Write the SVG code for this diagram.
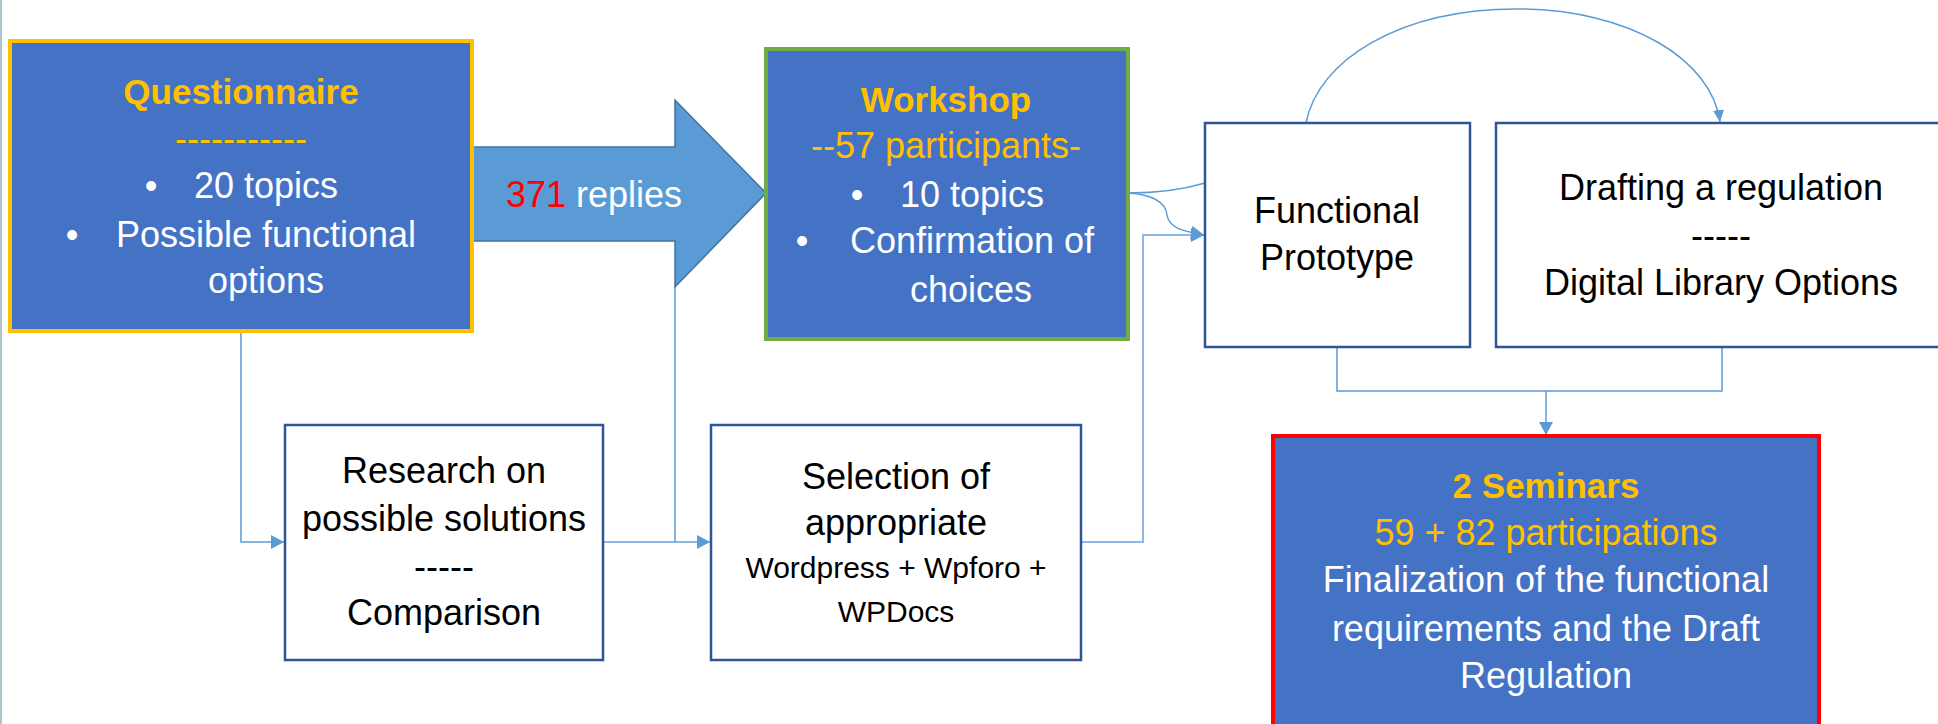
<svg xmlns="http://www.w3.org/2000/svg" width="1938" height="724" viewBox="0 0 1938 724">
  <defs>
    <marker id="ah" markerUnits="userSpaceOnUse" markerWidth="14" markerHeight="14" refX="13" refY="7" orient="auto">
      <path d="M0,0 L13,7 L0,14 z" fill="#5B9BD5"/>
    </marker>
    <marker id="ahs" markerUnits="userSpaceOnUse" markerWidth="13" markerHeight="11" refX="12" refY="5.5" orient="auto">
      <path d="M0,0 L12,5.5 L0,11 z" fill="#5B9BD5"/>
    </marker>
  </defs>
  <style>
    text { font-family: "Liberation Sans", Arial, sans-serif; font-size: 36px; text-anchor: middle; }
    .w { fill: #FFFFFF; }
    .k { fill: #000000; }
    .o { fill: #FFC000; }
    .b { font-weight: bold; font-size: 35px; }
    .sm { font-size: 30px; }
    .blue { fill: #4472C4; }
    .plain { fill: #FFFFFF; stroke: #2F5597; stroke-width: 2.5; }
    .con { fill: none; stroke: #5B9BD5; stroke-width: 1.5; }
    .con2 { fill: none; stroke: #8DB8E6; stroke-width: 2; }
  </style>
  <rect width="1938" height="724" fill="#FFFFFF"/>
  <line x1="1" y1="0" x2="1" y2="724" stroke="#AFC3CC" stroke-width="2"/>

  <g id="connectors">
    <path class="con" d="M241,332 V542 H284" marker-end="url(#ah)"/>
    <path class="con2" d="M604,542 H710" marker-end="url(#ah)"/>
    <path class="con" d="M675,287 V542"/>
    <path class="con2" d="M1082,542 H1143 V235 H1204" marker-end="url(#ah)"/>
    <path class="con" d="M1128,193 C1160,193 1185,189 1205,183"/>
    <path class="con" d="M1128,193 C1158,195 1166,205 1167,215 C1169,228 1182,231 1204,235" marker-end="url(#ah)"/>
    <path class="con" d="M1306,123 C1318,60 1400,9 1517,9 C1630,9 1712,60 1720,122" marker-end="url(#ahs)"/>
    <path class="con" d="M1337,347 V391 H1722 V347"/>
    <path class="con" d="M1546,391 V435" marker-end="url(#ah)"/>
  </g>

  <g id="replies-arrow">
    <polygon points="472,147 675,147 675,100 766,193 675,287 675,241 472,241" fill="#5B9BD5" stroke="#41719C" stroke-width="1.5"/>
    <text x="594" y="207"><tspan fill="#FF0000">371</tspan><tspan class="w"> replies</tspan></text>
  </g>

  <g id="questionnaire">
    <rect x="10" y="41" width="462" height="290" class="blue" stroke="#FFC000" stroke-width="4"/>
    <text x="241" y="104" class="o b">Questionnaire</text>
    <text x="241" y="151" class="o">-----------</text>
    <text x="151" y="198" class="w">•</text>
    <text x="266" y="198" class="w">20 topics</text>
    <text x="72" y="247" class="w">•</text>
    <text x="266" y="247" class="w">Possible functional</text>
    <text x="266" y="293" class="w">options</text>
  </g>

  <g id="workshop">
    <rect x="766" y="49" width="362" height="290" class="blue" stroke="#70AD47" stroke-width="4"/>
    <text x="946" y="112" class="o b">Workshop</text>
    <text x="946" y="158" class="o">--57 participants-</text>
    <text x="857" y="207" class="w">•</text>
    <text x="972" y="207" class="w">10 topics</text>
    <text x="802" y="253" class="w">•</text>
    <text x="972" y="253" class="w">Confirmation of</text>
    <text x="971" y="302" class="w">choices</text>
  </g>

  <g id="functional-prototype">
    <rect x="1205" y="123" width="265" height="224" class="plain"/>
    <text x="1337" y="223" class="k">Functional</text>
    <text x="1337" y="270" class="k">Prototype</text>
  </g>

  <g id="drafting">
    <rect x="1496" y="123" width="470" height="224" class="plain"/>
    <text x="1721" y="200" class="k">Drafting a regulation</text>
    <text x="1721" y="248" class="k">-----</text>
    <text x="1721" y="295" class="k">Digital Library Options</text>
  </g>

  <g id="research">
    <rect x="285" y="425" width="318" height="235" class="plain"/>
    <text x="444" y="483" class="k">Research on</text>
    <text x="444" y="531" class="k">possible solutions</text>
    <text x="444" y="579" class="k">-----</text>
    <text x="444" y="625" class="k">Comparison</text>
  </g>

  <g id="selection">
    <rect x="711" y="425" width="370" height="235" class="plain"/>
    <text x="896" y="489" class="k">Selection of</text>
    <text x="896" y="535" class="k">appropriate</text>
    <text x="896" y="578" class="k sm">Wordpress + Wpforo +</text>
    <text x="896" y="622" class="k sm">WPDocs</text>
  </g>

  <g id="seminars">
    <rect x="1273" y="436" width="546" height="320" class="blue" stroke="#FF0000" stroke-width="4"/>
    <text x="1546" y="498" class="o b">2 Seminars</text>
    <text x="1546" y="545" class="o">59 + 82 participations</text>
    <text x="1546" y="592" class="w">Finalization of the functional</text>
    <text x="1546" y="641" class="w">requirements and the Draft</text>
    <text x="1546" y="688" class="w">Regulation</text>
  </g>
</svg>
